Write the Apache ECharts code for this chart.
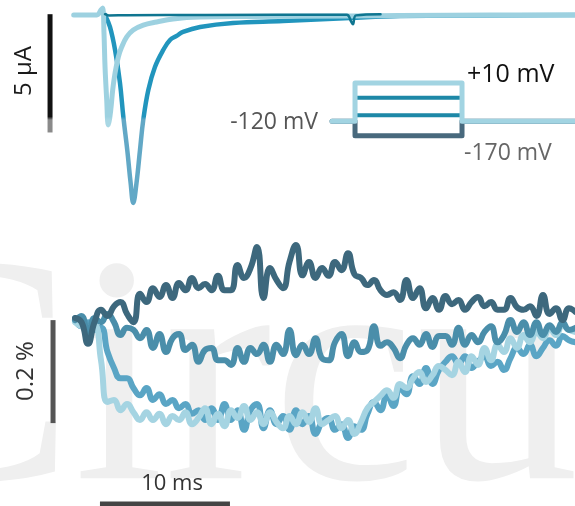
<!DOCTYPE html>
<html>
<head>
<meta charset="utf-8">
<script src="https://cdn.jsdelivr.net/npm/echarts@6/dist/echarts.min.js"></script>
<style>
  html, body { margin: 0; padding: 0; background: #ffffff; }
  #chart { width: 575px; height: 506px; }
</style>
</head>
<body>
<div id="chart"></div>
<script>
// ---- Membrane current traces (time in ms, current in µA) ----
const currentTimeLight = [-0.1, 1.69, 2.0, 2.13, 2.23, 2.31, 2.44, 2.56, 2.75, 2.9, 3.08, 3.33, 3.59, 3.98, 4.48, 5.25, 6.28, 7.54, 9.62, 13.46, 21.15, 28.85, 38.46];
const currentLight     = [-0.03, -0.03, 0.18, 0.26, -0.79, -2.23, -3.63, -4.68, -4.05, -3.2, -2.49, -1.81, -1.39, -0.96, -0.67, -0.46, -0.33, -0.20, -0.12, -0.10, -0.08, -0.04, -0.03];

const currentTimeMid = [2.31, 2.69, 3.08, 3.46, 3.72, 4.02, 4.28, 4.48, 4.73, 5.0, 5.25, 5.64, 6.15, 6.79, 7.31, 7.82, 8.31, 9.62, 12.15, 16.0, 21.15, 25.0, 38.46];
const currentMid     = [-0.03, -0.54, -1.51, -2.91, -4.35, -5.74, -7.14, -7.98, -7.14, -5.74, -4.47, -3.20, -2.23, -1.51, -1.09, -0.92, -0.75, -0.54, -0.37, -0.29, -0.16, -0.08, -0.03];

const currentTimeDark = [2.31, 2.6, 4.0, 10.0, 20.9, 21.23, 21.38, 21.62, 23.5];
const currentDark     = [0, -0.05, -0.04, -0.03, -0.02, -0.3, -0.42, -0.05, 0];

// ---- Voltage protocol (schematic) ----
const protocolTimes = [19.77, 21.54, 29.77, 38.46]; // hold start, step on, step off, end
const holdingMv = -120;
const stepMv = [10, -40, -100, -170];

// ---- Fluorescence traces, ΔF/F (%), sampled every 0.5 ms ----
const sampleMs = 0.5;
const fluorDark = [0.000, -0.008, -0.050, -0.008, 0.016, 0.004, 0.023, 0.031, 0.008, -0.008,
  0.047, 0.031, 0.058, 0.041, 0.064, 0.039, 0.068, 0.054, 0.078, 0.058,
  0.066, 0.054, 0.082, 0.054, 0.054, 0.103, 0.078, 0.097, 0.138, 0.039,
  0.097, 0.074, 0.058, 0.109, 0.142, 0.083, 0.109, 0.078, 0.097, 0.082,
  0.109, 0.093, 0.126, 0.085, 0.078, 0.064, 0.074, 0.054, 0.045, 0.050,
  0.035, 0.074, 0.039, 0.058, 0.019, 0.039, 0.016, 0.043, 0.027, 0.035,
  0.016, 0.031, 0.041, 0.023, 0.031, 0.016, 0.016, 0.039, 0.021, 0.016,
  0.023, 0.004, 0.045, 0.008, 0.019, -0.004, 0.019, 0.012];
const fluorTeal = [-0.004, 0.004, -0.043, 0.000, -0.008, 0.008, -0.008, -0.033, -0.019, -0.023,
  -0.039, -0.023, -0.058, -0.031, -0.066, -0.039, -0.031, -0.062, -0.052, -0.085,
  -0.062, -0.058, -0.082, -0.082, -0.091, -0.058, -0.085, -0.058, -0.070, -0.052,
  -0.085, -0.052, -0.070, -0.023, -0.072, -0.052, -0.070, -0.039, -0.078, -0.082,
  -0.047, -0.031, -0.074, -0.047, -0.066, -0.062, -0.016, -0.054, -0.047, -0.058,
  -0.078, -0.052, -0.039, -0.052, -0.031, -0.056, -0.035, -0.035, -0.052, -0.019,
  -0.052, -0.033, -0.047, -0.027, -0.016, -0.047, -0.033, -0.004, -0.027, -0.008,
  -0.033, -0.008, -0.033, -0.014, -0.027, -0.008, -0.023, -0.019];
const fluorBlue = [0.000, -0.016, -0.008, -0.023, -0.019, -0.066, -0.097, -0.117, -0.117, -0.136,
  -0.150, -0.136, -0.159, -0.148, -0.167, -0.159, -0.175, -0.167, -0.186, -0.179,
  -0.198, -0.175, -0.198, -0.167, -0.198, -0.179, -0.217, -0.179, -0.167, -0.214,
  -0.179, -0.206, -0.190, -0.217, -0.179, -0.206, -0.190, -0.225, -0.202, -0.194,
  -0.217, -0.206, -0.233, -0.210, -0.217, -0.186, -0.163, -0.179, -0.148, -0.171,
  -0.136, -0.148, -0.113, -0.128, -0.097, -0.128, -0.101, -0.085, -0.074, -0.089,
  -0.074, -0.097, -0.085, -0.074, -0.093, -0.085, -0.101, -0.078, -0.058, -0.070,
  -0.052, -0.074, -0.058, -0.043, -0.054, -0.035, -0.043, -0.047];
const fluorLight = [-0.008, -0.016, -0.019, -0.014, -0.082, -0.163, -0.159, -0.179, -0.167, -0.183,
  -0.198, -0.183, -0.198, -0.186, -0.206, -0.190, -0.198, -0.183, -0.206, -0.194,
  -0.175, -0.206, -0.186, -0.210, -0.179, -0.194, -0.171, -0.198, -0.183, -0.206,
  -0.183, -0.202, -0.214, -0.190, -0.206, -0.183, -0.202, -0.175, -0.206, -0.198,
  -0.190, -0.214, -0.198, -0.225, -0.202, -0.175, -0.163, -0.151, -0.140, -0.155,
  -0.128, -0.136, -0.117, -0.105, -0.124, -0.111, -0.093, -0.101, -0.111, -0.085,
  -0.105, -0.074, -0.091, -0.058, -0.082, -0.052, -0.066, -0.039, -0.058, -0.033,
  -0.047, -0.027, -0.039, -0.019, -0.033, -0.014, -0.023, -0.027];

// ---- Scale bars ----
const scaleCurrentUA = 5;
const scaleFluorPct = 0.2;
const scaleTimeMs = 10;

const pairs = (xs, ys) => xs.map((x, i) => [x, ys[i]]);
const sampled = ys => ys.map((y, i) => [i * sampleMs, y]);
const stepPath = level => [
  [protocolTimes[0], holdingMv], [protocolTimes[1], holdingMv],
  [protocolTimes[1], level], [protocolTimes[2], level],
  [protocolTimes[2], holdingMv], [protocolTimes[3], holdingMv]
];

const X_MIN = -75 / 13, X_MAX = 500 / 13;
const xAxis = i => ({ type: 'value', gridIndex: i, min: X_MIN, max: X_MAX, show: false });
// strokes below the top panel's lower band are drawn a little paler
const fade = (top, bottom) => new echarts.graphic.LinearGradient(0, 0, 0, 220, [
  { offset: 0, color: top }, { offset: 0.53, color: top },
  { offset: 0.545, color: bottom }, { offset: 1, color: bottom }
], true);

const line = (extra) => Object.assign({
  type: 'line', showSymbol: false, symbol: 'none', animation: false,
  silent: true, clip: false
}, extra);

const textFont = size => size + 'px "Open Sans", sans-serif';

const chart = echarts.init(document.getElementById('chart'), null, { renderer: 'canvas' });
chart.setOption({
  backgroundColor: '#ffffff',
  animation: false,
  grid: [
    { left: 0, right: 0, top: 0, height: 220 },
    { left: 0, right: 0, top: 74.3, height: 70.3 },
    { left: 0, right: 0, top: 230, height: 276 }
  ],
  xAxis: [xAxis(0), xAxis(1), xAxis(2)],
  yAxis: [
    { type: 'value', gridIndex: 0, min: -8.7, max: 0.6, show: false },
    { type: 'value', gridIndex: 1, min: -200, max: 40, show: false },
    { type: 'value', gridIndex: 2, min: -0.365, max: 0.171, show: false }
  ],
  graphic: [
    { type: 'text', x: -143, y: 393, z: -10, silent: true,
      style: { text: 'Circulation', font: '325px "Liberation Serif", serif', fill: '#efefef', verticalAlign: 'middle', align: 'left' } },
    { type: 'text', x: 24, y: 71, rotation: Math.PI / 2, z: 100,
      style: { x: 0, y: 0, text: '5 µA', font: textFont(24), fill: '#1a1a1a', align: 'center', verticalAlign: 'middle' } },
    { type: 'text', x: 26, y: 371, rotation: Math.PI / 2, z: 100,
      style: { x: 0, y: 0, text: '0.2 %', font: textFont(24), fill: '#333333', align: 'center', verticalAlign: 'middle' } },
    { type: 'text', x: 172, y: 484, z: 100,
      style: { text: '10 ms', font: textFont(22), fill: '#333333', align: 'center', verticalAlign: 'middle' } },
    { type: 'text', x: 318, y: 122, z: 100,
      style: { text: '-120 mV', font: textFont(23), fill: '#555555', align: 'right', verticalAlign: 'middle' } },
    { type: 'text', x: 467, y: 75, z: 100,
      style: { text: '+10 mV', font: textFont(25), fill: '#111111', align: 'left', verticalAlign: 'middle' } },
    { type: 'text', x: 464, y: 153, z: 100,
      style: { text: '-170 mV', font: textFont(23), fill: '#666666', align: 'left', verticalAlign: 'middle' } }
  ],
  series: [
    // current traces
    line({ name: 'I mid', xAxisIndex: 0, yAxisIndex: 0, smooth: 0.4, z: 3,
      data: pairs(currentTimeMid, currentMid),
      lineStyle: { width: 4.5, color: fade('#2195bd', '#62a8c6'), cap: 'round', join: 'round' } }),
    line({ name: 'I light', xAxisIndex: 0, yAxisIndex: 0, smooth: 0.4, z: 4,
      data: pairs(currentTimeLight, currentLight),
      lineStyle: { width: 5, color: fade('#9dd1e0', '#a9d7e4'), cap: 'round', join: 'round' } }),
    line({ name: 'I dark', xAxisIndex: 0, yAxisIndex: 0, smooth: 0.4, z: 5,
      data: pairs(currentTimeDark, currentDark),
      lineStyle: { width: 2.5, color: '#0f7590', cap: 'round' } }),
    // 5 µA scale bar
    line({ name: 'scale I', xAxisIndex: 0, yAxisIndex: 0, z: 5,
      data: [[-1.92, 0], [-1.92, -scaleCurrentUA]],
      lineStyle: { width: 5, color: fade('#111111', '#8a8a8a'), cap: 'butt' } }),
    // voltage protocol
    line({ name: 'V ' + stepMv[1], xAxisIndex: 1, yAxisIndex: 1, z: 3, data: stepPath(stepMv[1]),
      lineStyle: { width: 4, color: '#1d88a7' } }),
    line({ name: 'V ' + stepMv[2], xAxisIndex: 1, yAxisIndex: 1, z: 3, data: stepPath(stepMv[2]),
      lineStyle: { width: 4, color: '#1d88a7' } }),
    line({ name: 'V ' + stepMv[3], xAxisIndex: 1, yAxisIndex: 1, z: 3, data: stepPath(stepMv[3]),
      lineStyle: { width: 5, color: '#48697d', cap: 'round', join: 'round' } }),
    line({ name: 'V ' + stepMv[0], xAxisIndex: 1, yAxisIndex: 1, z: 4, data: stepPath(stepMv[0]),
      lineStyle: { width: 5, color: '#a2d4e2', cap: 'round', join: 'round' } }),
    // fluorescence traces
    line({ name: 'F blue', xAxisIndex: 2, yAxisIndex: 2, smooth: 0.5, z: 3, data: sampled(fluorBlue),
      lineStyle: { width: 6, color: '#5aa5c5', cap: 'round', join: 'round' } }),
    line({ name: 'F light', xAxisIndex: 2, yAxisIndex: 2, smooth: 0.5, z: 3, data: sampled(fluorLight),
      lineStyle: { width: 6, color: '#a5d4e2', cap: 'round', join: 'round' } }),
    line({ name: 'F teal', xAxisIndex: 2, yAxisIndex: 2, smooth: 0.5, z: 4, data: sampled(fluorTeal),
      lineStyle: { width: 6, color: '#4a8eaa', cap: 'round', join: 'round' } }),
    line({ name: 'F dark', xAxisIndex: 2, yAxisIndex: 2, smooth: 0.5, z: 5, data: sampled(fluorDark),
      lineStyle: { width: 6, color: '#3d687d', cap: 'round', join: 'round' } }),
    // 0.2 % and 10 ms scale bars
    line({ name: 'scale F', xAxisIndex: 2, yAxisIndex: 2, z: 5,
      data: [[-1.69, -0.004], [-1.69, -0.004 - scaleFluorPct]],
      lineStyle: { width: 5, color: '#555555', cap: 'butt' } }),
    line({ name: 'scale t', xAxisIndex: 2, yAxisIndex: 2, z: 5,
      data: [[1.92, -0.361], [1.92 + scaleTimeMs, -0.361]],
      lineStyle: { width: 5, color: '#444444', cap: 'butt' } })
  ]
});
</script>
</body>
</html>
